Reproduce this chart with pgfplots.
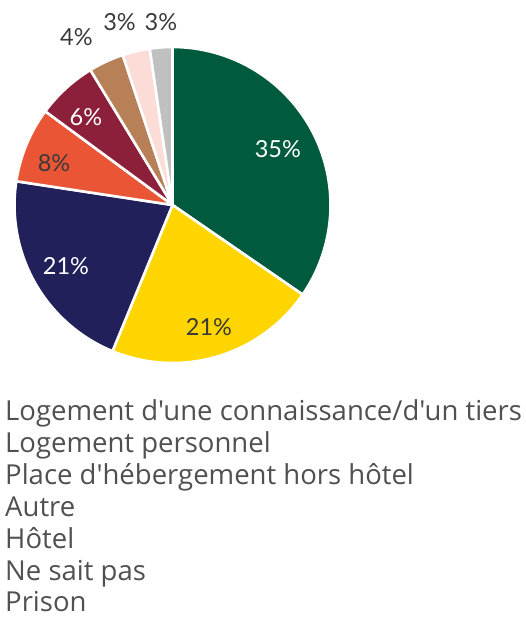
\documentclass[border=0pt]{standalone}
\usepackage{pgfplots}
\pgfplotsset{compat=1.18}
\usepackage{fontspec}
\setmainfont{Lato}
\newfontfamily\legfont{Open Sans}[Ligatures=NoCommon]
\definecolor{cA}{HTML}{005A3E}
\definecolor{cB}{HTML}{FFD500}
\definecolor{cC}{HTML}{21205A}
\definecolor{cD}{HTML}{E95535}
\definecolor{cE}{HTML}{8C1F3A}
\definecolor{cF}{HTML}{B88057}
\definecolor{cG}{HTML}{FBDCD6}
\definecolor{cH}{HTML}{C0C0C0}
\definecolor{txt}{HTML}{3A3A3A}
\definecolor{leg}{HTML}{505050}
% slice values (percent)
\def\pA{34.6}\def\pB{21.6}\def\pC{21.2}\def\pD{7.7}
\def\pE{6.2}\def\pF{3.6}\def\pG{2.8}\def\pH{2.3}
\pgfmathsetmacro\aA{90}
\pgfmathsetmacro\aB{\aA-3.6*\pA}
\pgfmathsetmacro\aC{\aB-3.6*\pB}
\pgfmathsetmacro\aD{\aC-3.6*\pC}
\pgfmathsetmacro\aE{\aD-3.6*\pD}
\pgfmathsetmacro\aF{\aE-3.6*\pE}
\pgfmathsetmacro\aG{\aF-3.6*\pF}
\pgfmathsetmacro\aH{\aG-3.6*\pG}
\pgfmathsetmacro\aI{\aH-3.6*\pH}
\begin{document}
\begin{tikzpicture}
\begin{axis}[
  at={(0,0)}, anchor=south west,
  x=158bp, y=158bp,
  xmin=-1.0918, xmax=2.2373,
  ymin=-2.6266, ymax=1.2975,
  hide axis, clip=false,
  every axis plot/.append style={draw=white, line width=2.6bp, line join=round, samples=80, variable=\t},
]
\addplot[fill=cA, domain=\aB:\aA] ({cos(\t)},{sin(\t)}) -- (0,0) -- cycle;
\addplot[fill=cB, domain=\aC:\aB] ({cos(\t)},{sin(\t)}) -- (0,0) -- cycle;
\addplot[fill=cC, domain=\aD:\aC] ({cos(\t)},{sin(\t)}) -- (0,0) -- cycle;
\addplot[fill=cD, domain=\aE:\aD] ({cos(\t)},{sin(\t)}) -- (0,0) -- cycle;
\addplot[fill=cE, domain=\aF:\aE] ({cos(\t)},{sin(\t)}) -- (0,0) -- cycle;
\addplot[fill=cF, domain=\aG:\aF] ({cos(\t)},{sin(\t)}) -- (0,0) -- cycle;
\addplot[fill=cG, domain=\aH:\aG] ({cos(\t)},{sin(\t)}) -- (0,0) -- cycle;
\addplot[fill=cH, domain=\aI:\aH] ({cos(\t)},{sin(\t)}) -- (0,0) -- cycle;
% percentage labels
\begin{scope}[every node/.style={font=\fontsize{23.5bp}{26bp}\selectfont, inner sep=0pt}]
\node[white] at (axis cs:0.667,0.354) {35\%};
\node[txt]   at (axis cs:0.231,-0.772) {21\%};
\node[white] at (axis cs:-0.674,-0.386) {21\%};
\node[txt]   at (axis cs:-0.750,0.266) {8\%};
\node[white] at (axis cs:-0.548,0.557) {6\%};
\node[txt]   at (axis cs:-0.608,1.063) {4\%};
\node[txt]   at (axis cs:-0.335,1.155) {3\%};
\node[txt]   at (axis cs:-0.073,1.155) {3\%};
\end{scope}
% legend text
\begin{scope}[every node/.style={font=\legfont\fontsize{27.5bp}{30bp}\selectfont, text=leg, inner sep=0pt, anchor=base west}]
\node at (axis cs:-1.060,-1.3671) {Logement d'une connaissance/d'un tiers};
\node at (axis cs:-1.060,-1.5686) {Logement personnel};
\node at (axis cs:-1.060,-1.7700) {Place d'hébergement hors hôtel};
\node at (axis cs:-1.060,-1.9715) {Autre};
\node at (axis cs:-1.060,-2.1730) {Hôtel};
\node at (axis cs:-1.060,-2.3744) {Ne sait pas};
\node at (axis cs:-1.060,-2.5759) {Prison};
\end{scope}
\end{axis}
\pgfresetboundingbox
\path (0,0) rectangle (526bp,620bp);
\end{tikzpicture}
\end{document}
